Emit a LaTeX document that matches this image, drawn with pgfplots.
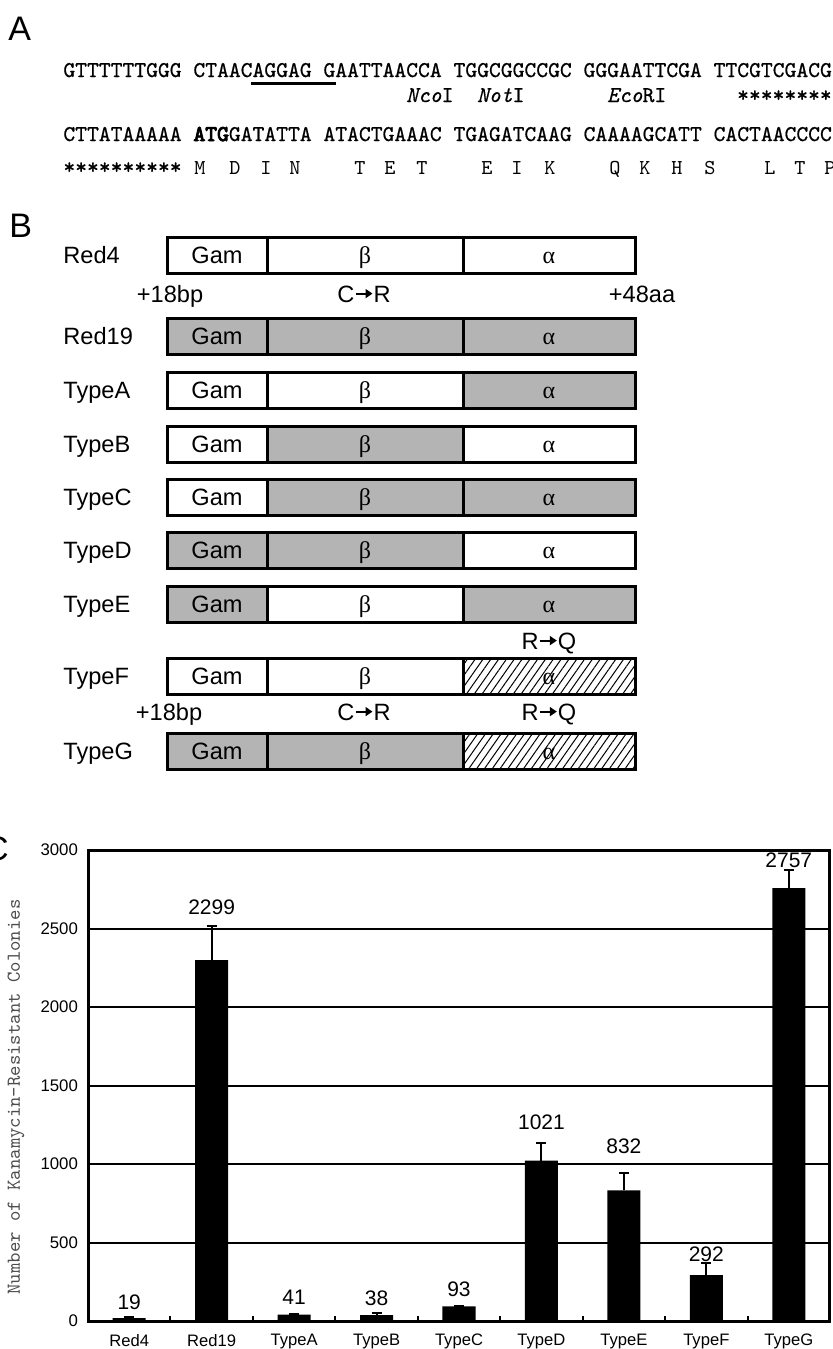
\documentclass[border=0pt]{standalone}
\usepackage{fontspec}
\setmainfont{Liberation Sans}
\newfontfamily\grk{Liberation Serif}
\newfontfamily\seqfont[Extension=.otf,FakeBold=0.7]{lmmono10-regular}
\newfontfamily\seqbold[Extension=.otf,FakeBold=4]{lmmono10-regular}
\newfontfamily\seqit[Extension=.otf,FakeBold=0.5]{lmmono10-italic}
\newfontfamily\seqthin[Extension=.otf]{lmmono10-regular}
\usepackage{pgfplots}
\pgfplotsset{compat=1.18}
\usetikzlibrary{patterns.meta,arrows.meta}
\definecolor{boxgray}{RGB}{180,180,180}
\newcommand\seqf{\fontsize{11.26pt}{13pt}\seqfont}
\newcommand\lbl{\fontsize{11.8pt}{14pt}\selectfont}
\newcommand\grkf{\fontsize{12pt}{14pt}\grk}
\newcommand\panelf{\fontsize{17pt}{20pt}\selectfont}
\newcommand\rarr{\tikz[baseline={(0pt,-4.2pt)}]\draw[line width=1.1pt,-{Triangle[length=3.5pt,width=4.5pt]}] (0pt,0pt) -- (8.5pt,0pt);}
\tikzset{wb/.style={fill=white},gb/.style={fill=boxgray},
  hb/.style={fill=white,postaction={pattern={Lines[angle=55,distance=3.2pt,line width=0.5pt]}}}}
\newcommand\construct[5]{%
  \path[#3] (167,#2) rectangle (267,#2+36);
  \path[#4] (267,#2) rectangle (463,#2+36);
  \path[#5] (463,#2) rectangle (635,#2+36);
  \draw[line width=1.5pt] (167,#2) rectangle (635,#2+36) (267,#2) -- (267,#2+36) (463,#2) -- (463,#2+36);
  \node[anchor=base west,font=\lbl] at (63,#2+26.5) {#1};
  \node[anchor=base,font=\lbl] at (217,#2+26.5) {Gam};
  \node[anchor=base,font=\grkf] at (365,#2+26.5) {β};
  \node[anchor=base,font=\grkf] at (549,#2+26.5) {α};
}
\pgfplotstableread{
x y e
0 19 6
1 2299 217
2 41 5
3 38 12
4 93 4
5 1021 114
6 832 110
7 292 76
8 2757 114
}\colonies
\begin{document}
\begin{tikzpicture}
\path[use as bounding box] (0pt,0pt) rectangle (416.5pt,-674.5pt);
\begin{scope}[x=0.5pt,y=-0.5pt,every node/.style={inner sep=0pt}]
% ---------- Panel A ----------
\node[anchor=base west,font=\panelf] at (8,40) {A};
\node[anchor=base west,font=\seqf] at (63,77) {GTTTTTTGGG CTAACAGGAG GAATTAACCA TGGCGGCCGC GGGAATTCGA TTCGTCGACG};
\draw[line width=1.5pt] (251,83.5) -- (336,83.5);
\node[anchor=base west,font=\fontsize{11.26pt}{13pt}\seqit] at ({63+29*11.82},102) {Nco{\seqfont I}};
\node[anchor=base west,font=\fontsize{11.26pt}{13pt}\seqit] at ({63+35*11.82},102) {Not{\seqfont I}};
\node[anchor=base west,font=\fontsize{11.26pt}{13pt}\seqit] at ({63+46*11.82},102) {Eco{\seqfont RI}};
\node[anchor=base west,font=\seqf] at ({63+57*11.82},102) {********};
\node[anchor=base west,font=\seqf] at (63,141) {CTTATAAAAA {\seqbold ATG}GATATTA ATACTGAAAC TGAGATCAAG CAAAAGCATT CACTAACCCC};
\node[anchor=base west,font=\seqf] at (63,174) {**********};
\foreach \xx/\aa in {200/M,235/D,266/I,295/N,360/T,390/E,422/T,487/E,517/I,550/K,615/Q,645/K,677/H,710/S,770/L,800/T,830/P}
  \node[anchor=base,font=\fontsize{10.6pt}{12pt}\seqthin] at (\xx,174) {\aa};
% ---------- Panel B ----------
\node[anchor=base west,font=\panelf] at (9,237) {B};
\construct{Red4}{237}{wb}{wb}{wb}
\node[anchor=base,font=\lbl] at (170,302) {+18bp};
\node[anchor=base,font=\lbl] at (364,302) {C\rarr R};
\node[anchor=base,font=\lbl] at (642,302) {+48aa};
\construct{Red19}{318}{gb}{gb}{gb}
\construct{TypeA}{372}{wb}{wb}{gb}
\construct{TypeB}{426}{wb}{gb}{wb}
\construct{TypeC}{479}{wb}{gb}{gb}
\construct{TypeD}{532}{gb}{gb}{wb}
\construct{TypeE}{586}{gb}{wb}{gb}
\node[anchor=base,font=\lbl] at (549,649) {R\rarr Q};
\construct{TypeF}{658}{wb}{wb}{hb}
\node[anchor=base,font=\lbl] at (169,720) {+18bp};
\node[anchor=base,font=\lbl] at (364,720) {C\rarr R};
\node[anchor=base,font=\lbl] at (549,720) {R\rarr Q};
\construct{TypeG}{733}{gb}{gb}{hb}
% ---------- Panel C ----------
\node[anchor=base east,font=\panelf] at (9,860) {C};
\node[rotate=90,font=\fontsize{9.9pt}{12pt}\ttfamily,text=black!70] at (16,1097) {Number of Kanamycin-Resistant Colonies};
\end{scope}
\begin{axis}[
  at={(44pt,-660.5pt)}, anchor=south west,
  scale only axis, width=371pt, height=235.5pt,
  xmin=-0.5, xmax=8.5, ymin=0, ymax=3000,
  xtick={0,...,8},
  xticklabels={Red4,Red19,TypeA,TypeB,TypeC,TypeD,TypeE,TypeF,TypeG},
  minor xtick={0.5,1.5,...,7.5},
  ytick={0,500,...,3000},
  xtick pos=left, ytick pos=left,
  tick align=inside,
  major tick length=0pt, minor tick length=2.5pt,
  minor tick style={line width=1pt,black},
  ymajorgrids, grid style={black,line width=1pt},
  axis line style={line width=1.5pt},
  /pgf/number format/assume math mode=true,
  /pgf/number format/set thousands separator={},
  scaled y ticks=false,
  xticklabel style={font=\fontsize{8.3pt}{10pt}\selectfont,yshift=-3pt},
  yticklabel style={font=\fontsize{8.4pt}{10pt}\selectfont,xshift=-1.5pt},
]
\addplot[ybar, bar width=16.5pt, fill=black, draw=none,
  error bars/.cd, y dir=plus, y explicit,
  error bar style={line width=1pt,black},
  error mark options={rotate=90,mark size=2.5pt,line width=1pt,black}]
  table[x=x,y=y,y error=e] {\colonies};
\foreach \xx/\yy/\tt in {0/121/19,1/2637/2299,2/153/41,3/146/38,4/204/93,5/1268/1021,6/1115/832,7/427/292,8/2936/2757}{
  \edef\tmp{\noexpand\node[font=\noexpand\fontsize{10.5pt}{12pt}\noexpand\selectfont] at (axis cs:\xx,\yy) {\tt};}\tmp
}
\end{axis}
\end{tikzpicture}
\end{document}
